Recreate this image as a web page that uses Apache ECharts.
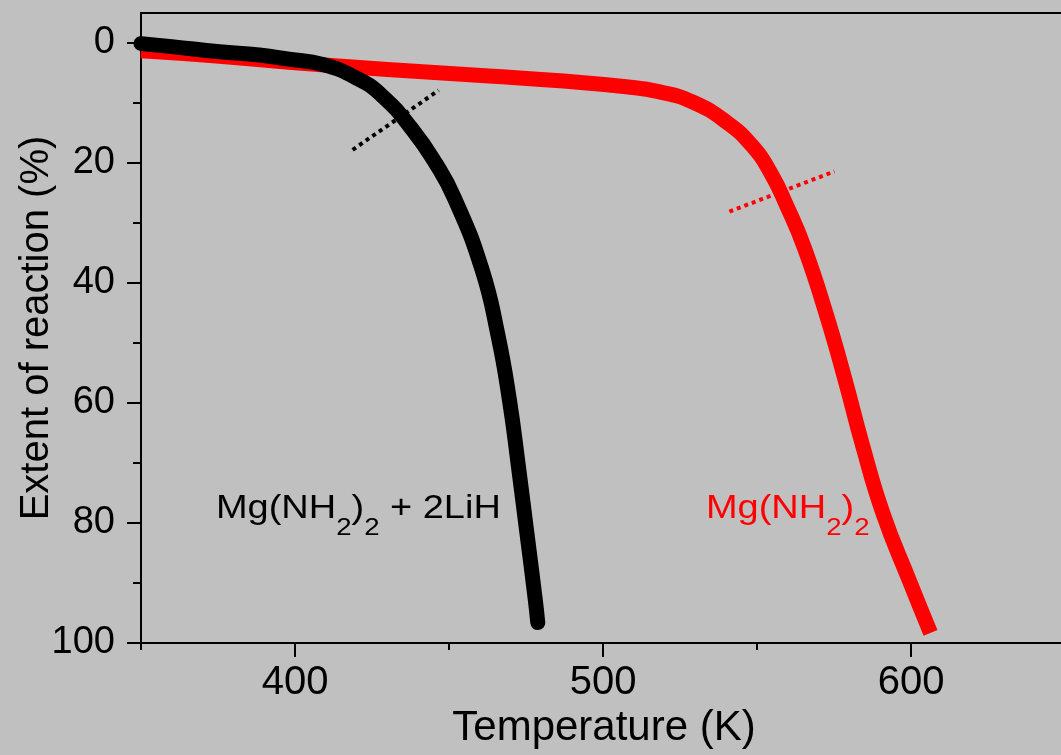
<!DOCTYPE html>
<html>
<head>
<meta charset="utf-8">
<script src="https://cdn.jsdelivr.net/npm/echarts@6/dist/echarts.min.js"></script>
<style>
  html, body { margin: 0; padding: 0; background: #c0c0c0; overflow: hidden; }
  #chart { width: 1061px; height: 755px; }
</style>
</head>
<body>
<div id="chart"></div>
<script>
// Mg(NH2)2 + 2LiH : temperature (K) and extent of reaction (%)
const tempLiH = [350, 360, 375.5, 388.4, 398, 409, 419.8, 428.5, 438.2, 445.6, 451.8, 460.6, 465.8, 469.6, 472.5, 475.2, 478, 478.8];
const extLiH  = [0.1, 0.6, 1.45, 2.0, 2.7, 3.6, 5.8, 8.9, 14.5, 20.0, 25.9, 37.6, 48.5, 59.5, 70.5, 81.4, 92.8, 96.6];

// Mg(NH2)2 alone
const tempMg = [350, 375.5, 398, 430, 463, 486, 507.5, 518, 529, 540.1, 548.5, 554.7, 559.5, 565.4, 572.5, 578.7, 584.2, 591, 599.5, 606.3];
const extMg  = [1.3, 2.2, 3.2, 4.4, 5.5, 6.3, 7.3, 8.1, 9.8, 13.2, 17.2, 21.9, 27.0, 34.2, 45.3, 56.4, 67.0, 78.6, 89.7, 98.3];

// dotted onset construction lines
const onsetLiHT = [418.7, 446.6];
const onsetLiHY = [17.8, 7.9];
const onsetMgT  = [541.0, 575.1];
const onsetMgY  = [28.1, 21.4];

// axis ticks
const xMajor = [400, 500, 600];
const xMinor = [350, 450, 550, 650];
const yMajor = [0, 20, 40, 60, 80, 100];
const yMinor = [10, 30, 50, 70, 90];

const FONT = '"Liberation Sans", Arial, Helvetica, sans-serif';
const zip = (a, b) => a.map((v, i) => [v, b[i]]);

const chart = echarts.init(document.getElementById('chart'), null, { renderer: 'canvas' });

const xBase = { type: 'value', min: 350, max: 650.6, position: 'bottom', splitLine: { show: false } };
const yBase = { type: 'value', min: -5, max: 100, inverse: true, position: 'left', splitLine: { show: false } };

chart.setOption({
  animation: false,
  backgroundColor: '#c0c0c0',
  textStyle: { fontFamily: FONT, color: '#000' },
  grid: {
    left: 141, top: 13, right: -6, bottom: 112,
    outerBoundsMode: 'none', containLabel: false,
    show: true, borderColor: '#000', borderWidth: 2, backgroundColor: 'transparent'
  },
  xAxis: [
    Object.assign({}, xBase, {
      name: 'Temperature (K)', nameLocation: 'middle', nameGap: 64, nameMoveOverlap: false,
      nameTextStyle: { fontSize: 42, color: '#000', fontFamily: FONT },
      axisLine: { show: true, onZero: false, lineStyle: { color: '#000', width: 2 } },
      axisTick: { show: true, inside: false, length: 14, customValues: xMajor, lineStyle: { color: '#000', width: 2 } },
      axisLabel: { show: true, customValues: xMajor, margin: 20, fontSize: 40, color: '#000', fontFamily: FONT }
    }),
    Object.assign({}, xBase, {
      axisLine: { show: false, onZero: false },
      axisTick: { show: true, inside: false, length: 7, customValues: xMinor, lineStyle: { color: '#000', width: 2 } },
      axisLabel: { show: false }
    })
  ],
  yAxis: [
    Object.assign({}, yBase, {
      name: 'Extent of reaction (%)', nameLocation: 'middle', nameGap: 84, nameRotate: 90, nameMoveOverlap: false,
      nameTextStyle: { fontSize: 40, color: '#000', fontFamily: FONT },
      axisLine: { show: true, onZero: false, lineStyle: { color: '#000', width: 2 } },
      axisTick: { show: true, inside: false, length: 14, customValues: yMajor, lineStyle: { color: '#000', width: 2 } },
      axisLabel: { show: true, customValues: yMajor, margin: 26, fontSize: 38, color: '#000', fontFamily: FONT }
    }),
    Object.assign({}, yBase, {
      axisLine: { show: false, onZero: false },
      axisTick: { show: true, inside: false, length: 8, customValues: yMinor, lineStyle: { color: '#000', width: 2 } },
      axisLabel: { show: false }
    })
  ],
  series: [
    {
      name: 'Mg(NH2)2', type: 'line', xAxisIndex: 0, yAxisIndex: 0,
      data: zip(tempMg, extMg), showSymbol: false, symbol: 'none',
      smooth: 0.5,
      lineStyle: { color: '#ff0000', width: 15, cap: 'butt', join: 'round' }
    },
    {
      name: 'Mg(NH2)2 + 2LiH', type: 'line', xAxisIndex: 0, yAxisIndex: 0,
      data: zip(tempLiH, extLiH), showSymbol: false, symbol: 'none',
      smooth: 0.5,
      lineStyle: { color: '#000000', width: 15, cap: 'round', join: 'round' }
    },
    {
      name: 'onset LiH', type: 'line', data: zip(onsetLiHT, onsetLiHY),
      showSymbol: false, symbol: 'none',
      lineStyle: { color: '#000000', width: 4, type: [4, 4], cap: 'butt' }
    },
    {
      name: 'onset Mg', type: 'line', data: zip(onsetMgT, onsetMgY),
      showSymbol: false, symbol: 'none',
      lineStyle: { color: '#ff0000', width: 4, type: [4, 4], cap: 'butt' }
    }
  ],
  graphic: [
    {
      type: 'text', x: 216, y: 492, scaleX: 1.15, z: 10,
      style: {
        text: '{n|Mg(NH}{s|2}{n|)}{s|2}{n| + 2LiH}',
        fill: '#000000',
        verticalAlign: 'top',
        rich: {
          n: { fontSize: 33, fontFamily: FONT, lineHeight: 36, verticalAlign: 'top', fill: '#000000' },
          s: { fontSize: 24, fontFamily: FONT, lineHeight: 24, padding: [24, 0, 0, 0], verticalAlign: 'top', fill: '#000000' }
        }
      }
    },
    {
      type: 'text', x: 706, y: 492, scaleX: 1.15, z: 10,
      style: {
        text: '{n|Mg(NH}{s|2}{n|)}{s|2}',
        fill: '#ff0000',
        verticalAlign: 'top',
        rich: {
          n: { fontSize: 33, fontFamily: FONT, lineHeight: 36, verticalAlign: 'top', fill: '#ff0000' },
          s: { fontSize: 24, fontFamily: FONT, lineHeight: 24, padding: [24, 0, 0, 0], verticalAlign: 'top', fill: '#ff0000' }
        }
      }
    }
  ]
});
</script>
</body>
</html>
